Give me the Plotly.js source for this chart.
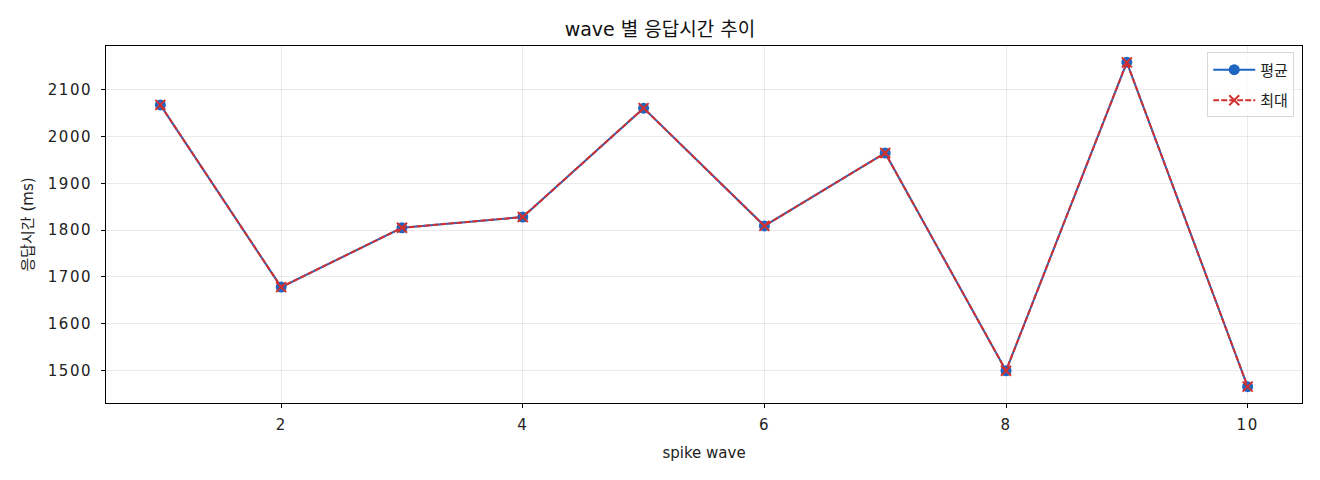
<!DOCTYPE html>
<html>
<head>
<meta charset="utf-8">
<script src="https://cdn.plot.ly/plotly-3.0.1.min.js"></script>
<style>
  body { margin: 0; background: #fff; }
  #chart { width: 1320px; height: 480px; }
  /* wide tick digits like the original font */
  .xtick text, .ytick text { letter-spacing: 1.5px; }
</style>
</head>
<body>
<div id="chart"></div>
<script>
// wave 번호와 응답시간 (ms)
var waves = [1, 2, 3, 4, 5, 6, 7, 8, 9, 10];
var avgMs = [2068, 1678, 1805, 1828, 2061, 1809, 1965, 1499, 2159, 1465];
var maxMs = [2068, 1678, 1805, 1828, 2061, 1809, 1965, 1499, 2159, 1465];
var xTicks = [2, 4, 6, 8, 10];
var yTicks = [1500, 1600, 1700, 1800, 1900, 2000, 2100];

var font = "DejaVu Sans, Noto Sans CJK KR, sans-serif";

var traces = [
    {
        x: waves,
        y: avgMs,
        name: "평균",
        legendgroup: "avg",
        type: "scatter",
        mode: "lines+markers",
        line: { color: "#1f66c2", width: 2 },
        marker: { symbol: "circle", size: 11, color: "#1f66c2" }
    },
    {
        x: waves,
        y: maxMs,
        name: "최대",
        legendgroup: "max",
        type: "scatter",
        mode: "lines+markers",
        line: { color: "#d2302e", width: 2, dash: "6px,2px" },
        marker: { symbol: "x-thin", size: 10, line: { color: "#d2302e", width: 2 } }
    }
];

var layout = {
    width: 1320,
    height: 480,
    margin: { l: 106, r: 18, t: 46, b: 77 },
    paper_bgcolor: "white",
    plot_bgcolor: "white",
    font: { family: font, size: 15, color: "#222" },
    title: {
        text: "wave 별 응답시간 추이",
        font: { family: font, size: 19, color: "#111" },
        x: 0.5, xanchor: "center",
        y: 1 - 29 / 480, yanchor: "middle"
    },
    xaxis: {
        range: [0.55, 10.45],
        tickvals: xTicks,
        ticks: "outside", ticklen: 4, tickcolor: "#000",
        ticklabelstandoff: 4,
        tickfont: { family: font, size: 15 },
        showgrid: true, gridcolor: "rgba(0,0,0,0.08)",
        zeroline: false,
        showline: true, linecolor: "#000", linewidth: 1, mirror: true,
        title: { text: "spike wave", font: { family: font, size: 15 }, standoff: 14 }
    },
    yaxis: {
        range: [1430, 2194],
        tickvals: yTicks,
        ticks: "outside", ticklen: 4, tickcolor: "#000",
        ticklabelstandoff: 6,
        tickfont: { family: font, size: 15 },
        showgrid: true, gridcolor: "rgba(0,0,0,0.08)",
        zeroline: false,
        showline: true, linecolor: "#000", linewidth: 1, mirror: true,
        title: { text: "응답시간 (ms)", font: { family: font, size: 15 }, standoff: 10 }
    },
    legend: {
        x: 0.9935, y: 0.982, xanchor: "right", yanchor: "top",
        bgcolor: "rgba(255,255,255,0.85)",
        bordercolor: "#d8d8d8", borderwidth: 1,
        traceorder: "grouped", tracegroupgap: 8,
        itemwidth: 42,
        font: { family: font, size: 15 }
    },
    showlegend: true
};

Plotly.newPlot("chart", traces, layout, { staticPlot: true });
</script>
</body>
</html>
